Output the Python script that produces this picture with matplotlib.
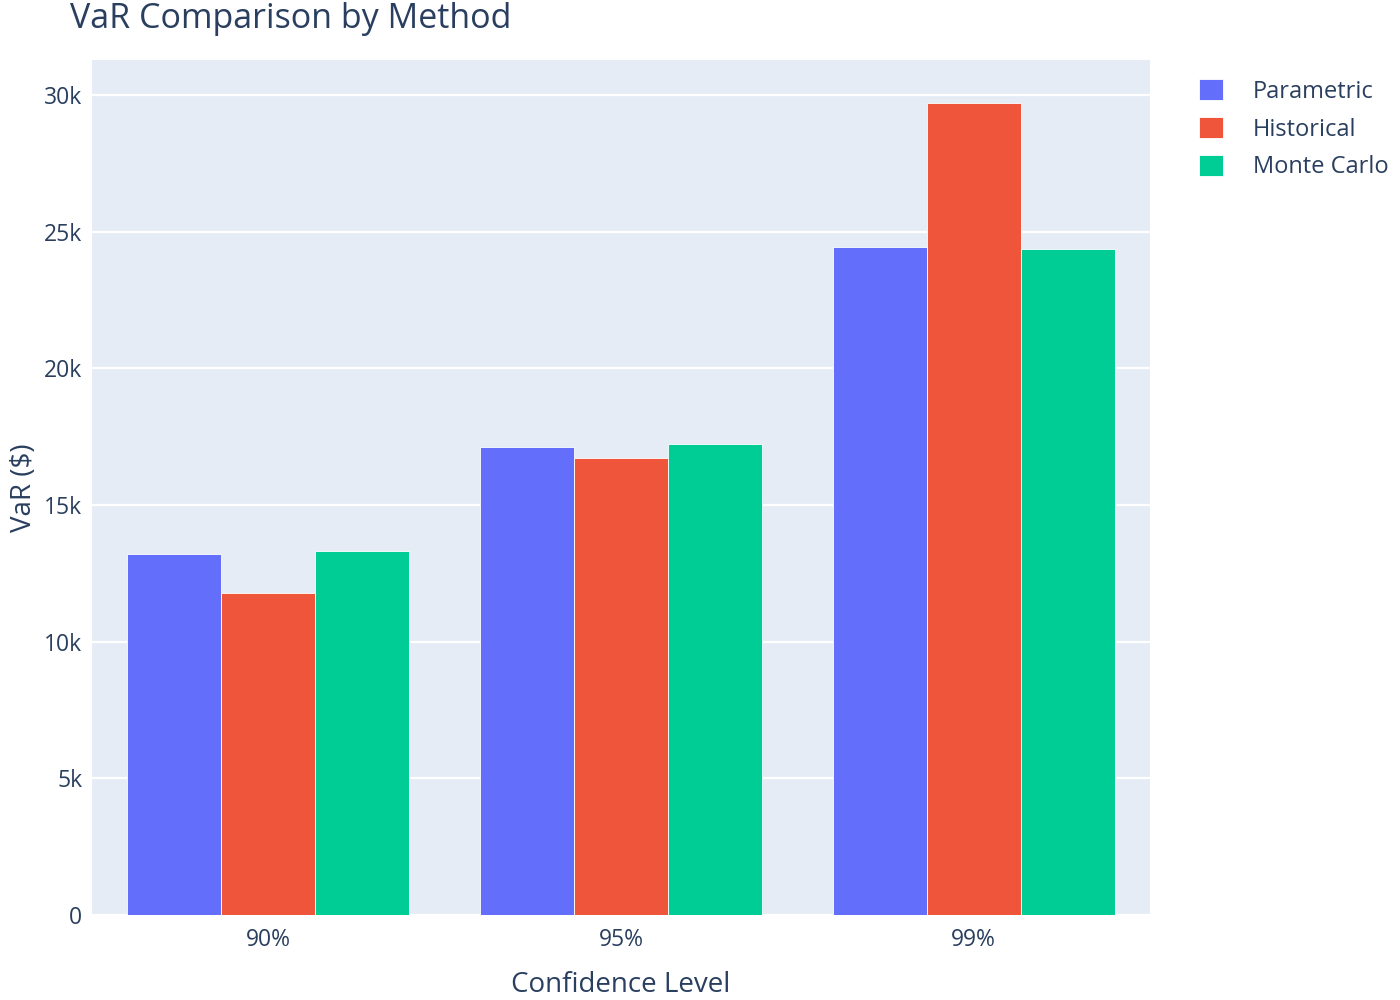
import numpy as np
import matplotlib.pyplot as plt
from matplotlib.ticker import FuncFormatter

# Chart data
levels = ['90%', '95%', '99%']
methods = ['Parametric', 'Historical', 'Monte Carlo']
parametric = [13210, 17120, 24440]
historical = [11790, 16720, 29700]
monte_carlo = [13320, 17220, 24380]
colors = ['#636EFA', '#EF553B', '#00CC96']

text_color = '#2a3f5f'
plt.rcParams['font.family'] = ['Open Sans', 'DejaVu Sans']

fig = plt.figure(figsize=(14, 10), dpi=100)
ax = fig.add_axes([92 / 1400, 85 / 1000, (1150 - 92) / 1400, (915 - 60) / 1000])
ax.set_facecolor('#E5ECF6')

x = np.arange(len(levels))
width = 0.8 / 3
for i, (name, vals) in enumerate(zip(methods, [parametric, historical, monte_carlo])):
    ax.bar(x + (i - 1) * width, vals, width, color=colors[i], label=name,
           edgecolor='white', linewidth=0.6, zorder=3)

ax.set_xlim(-0.5, 2.5)
ax.set_ylim(0, 31280)
ax.set_yticks(np.arange(0, 30001, 5000))
ax.yaxis.set_major_formatter(FuncFormatter(lambda v, p: '0' if v == 0 else f'{int(v / 1000)}k'))
ax.set_xticks(x)
ax.set_xticklabels(levels)
ax.grid(axis='y', color='white', linewidth=1.6, zorder=0)
ax.set_axisbelow(True)
for s in ax.spines.values():
    s.set_visible(False)
ax.tick_params(length=0, labelsize=16.5, colors=text_color)
ax.tick_params(axis='y', pad=7)
ax.tick_params(axis='x', pad=9)

ax.set_xlabel('Confidence Level', fontsize=20, color=text_color, labelpad=14)
ax.set_ylabel('VaR ($)', fontsize=20, color=text_color)
ax.yaxis.set_label_coords(-0.051, 0.5)

fig.text(70 / 1400, 1 - 19 / 1000, 'VaR Comparison by Method', fontsize=24.5,
         color=text_color, ha='left', va='center')

leg = ax.legend(loc='upper left', bbox_to_anchor=(1178 / 1400, 1 - 58 / 1000),
                bbox_transform=fig.transFigure, frameon=False, fontsize=17,
                handlelength=1.0, handleheight=1.0, handletextpad=1.27,
                labelspacing=0.55)
for t in leg.get_texts():
    t.set_color(text_color)

fig.savefig('out.png', dpi=100)
